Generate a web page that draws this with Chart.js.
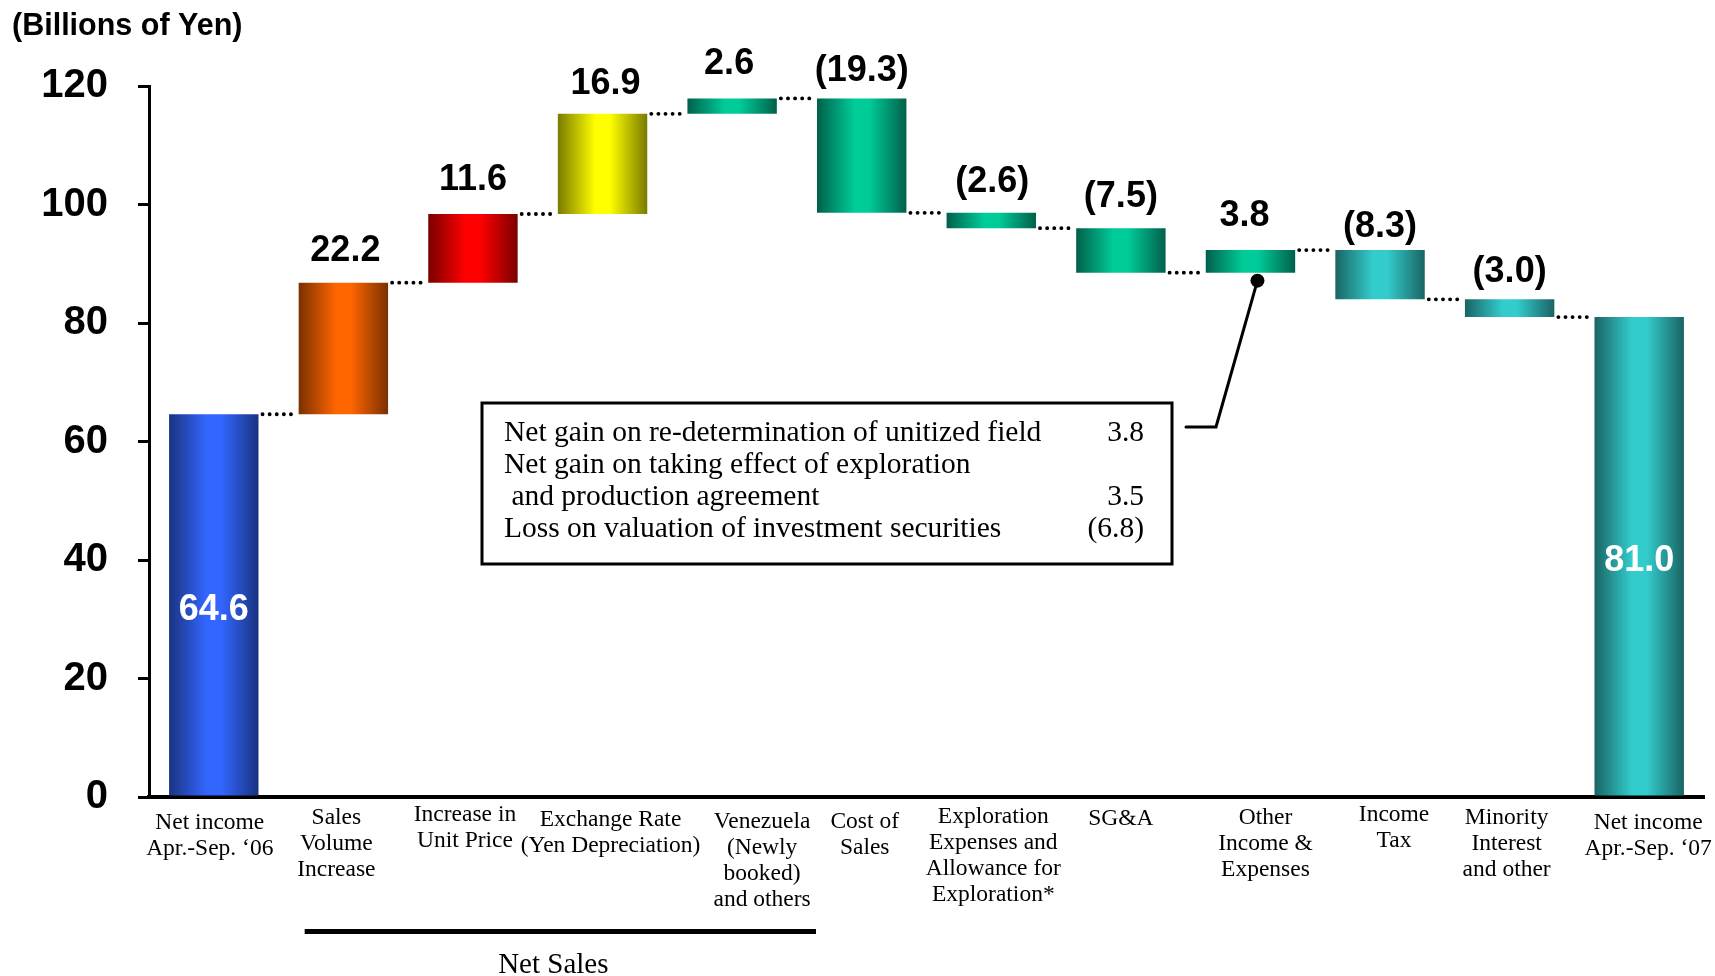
<!DOCTYPE html>
<html><head><meta charset="utf-8">
<script src="https://cdn.jsdelivr.net/npm/chart.js@4.4.1/dist/chart.umd.min.js"></script>
<style>html,body{margin:0;padding:0;background:#fff}#wrap{width:1715px;height:976px}</style>
</head><body><div id="wrap"><canvas id="c" width="1715" height="976"></canvas></div>
<script>
// ---------- data ----------
const categories = [
  ["Net income", "Apr.-Sep. \u201806"],
  ["Sales", "Volume", "Increase"],
  ["Increase in", "Unit Price"],
  ["Exchange Rate", "(Yen Depreciation)"],
  ["Venezuela", "(Newly", "booked)", "and others"],
  ["Cost of", "Sales"],
  ["Exploration", "Expenses and", "Allowance for", "Exploration*"],
  ["SG&A"],
  ["Other", "Income &", "Expenses"],
  ["Income", "Tax"],
  ["Minority", "Interest", "and other"],
  ["Net income", "Apr.-Sep. \u201807"]
];
const deltas = [64.6, 22.2, 11.6, 16.9, 2.6, -19.3, -2.6, -7.5, 3.8, -8.3, -3.0, 81.0];
const isTotal = [true, false, false, false, false, false, false, false, false, false, false, true];
const valueLabels = ["64.6", "22.2", "11.6", "16.9", "2.6", "(19.3)", "(2.6)", "(7.5)", "3.8", "(8.3)", "(3.0)", "81.0"];
const yTicks = [0, 20, 40, 60, 80, 100, 120];
const noteLines = ["Net gain on re-determination of unitized field", "Net gain on taking effect of exploration", " and production agreement", "Loss on valuation of investment securities"];
const noteValues = ["3.8", "", "3.5", "(6.8)"];
const unitTitle = "(Billions of Yen)";
const groupTitle = "Net Sales";

// ---------- styles ----------
const centerColors = ["#3366ff", "#ff6600", "#ff0000", "#ffff00", "#00cc99", "#00cc99", "#00cc99", "#00cc99", "#00cc99", "#33cccc", "#33cccc", "#33cccc"];
const edgeColors = ["#1a3380", "#7a3000", "#7a0000", "#7a7a00", "#00604a", "#00604a", "#00604a", "#00604a", "#00604a", "#1a6464", "#1a6464", "#1a6464"];
const BAR_PCT = 0.69;
const labelShiftX = [-4, -7, -8, 8, 30, 3, 2, 0, 15, 14, -3, 9];
const labelTopY = [823, 818, 815, 820, 822, 822, 817, 819, 818, 815, 818, 823];
const valueGap = [0, 32, 34, 30, 34, 27, 31, 31, 34, 23, 27, 0];
const valueShiftX = [0, 2, 0, 3, -3, 0, 1, 0, -6, 0, 0, 0];

// floating ranges built from deltas
const ranges = [];
let run = 0;
deltas.forEach((d, i) => {
  if (isTotal[i]) { ranges.push([0, d]); run = d; }
  else { ranges.push([run, run + d]); run = run + d; }
});
const levels = ranges.map(r => r[1]);

function barFill(ctx) {
  const chart = ctx.chart; const i = ctx.dataIndex;
  const xs = chart.scales && chart.scales.x;
  if (!chart.chartArea || !xs || xs.width === undefined) return centerColors[i];
  const cx = xs.getPixelForValue(i);
  const w = (xs.width / categories.length) * BAR_PCT;
  const g = chart.ctx.createLinearGradient(cx - w / 2, 0, cx + w / 2, 0);
  g.addColorStop(0, edgeColors[i]);
  g.addColorStop(0.42, centerColors[i]);
  g.addColorStop(0.58, centerColors[i]);
  g.addColorStop(1, edgeColors[i]);
  return g;
}

const SANS = "'Liberation Sans', Arial, sans-serif";
const SERIF = "'Liberation Serif', 'Times New Roman', serif";

const overlay = {
  id: 'overlay',
  afterDatasetsDraw(chart) {
    const ctx = chart.ctx;
    const meta = chart.getDatasetMeta(0);
    const ys = chart.scales.y;
    const xs = chart.scales.x;
    const els = meta.data;
    ctx.save();
    // category labels (x axis)
    ctx.fillStyle = '#000';
    ctx.font = "23.5px " + SERIF;
    ctx.textAlign = 'center'; ctx.textBaseline = 'middle';
    categories.forEach((lines, i) => {
      const cx = xs.getPixelForTick(i) + labelShiftX[i];
      lines.forEach((ln, k) => ctx.fillText(ln, cx, labelTopY[i] + k * 25.8));
    });
    // dotted connectors
    ctx.strokeStyle = '#000'; ctx.lineWidth = 3.8; ctx.lineCap = 'round';
    ctx.setLineDash([0.1, 7]);
    for (let i = 0; i < els.length - 1; i++) {
      const a = els[i], b = els[i + 1];
      const y = ys.getPixelForValue(levels[i]);
      ctx.beginPath();
      ctx.moveTo(a.x + a.width / 2 + 4, y);
      ctx.lineTo(b.x - b.width / 2 - 1, y);
      ctx.stroke();
    }
    ctx.setLineDash([]);
    // value labels
    ctx.font = "bold 36px " + SANS;
    els.forEach((el, i) => {
      if (isTotal[i]) {
        ctx.fillStyle = '#fff';
        ctx.fillText(valueLabels[i], el.x, (el.y + el.base) / 2 + 5);
      } else {
        ctx.fillStyle = '#000';
        const top = Math.min(el.y, el.base);
        ctx.fillText(valueLabels[i], el.x + valueShiftX[i], top - valueGap[i]);
      }
    });
    // unit title
    ctx.font = "bold 30.5px " + SANS;
    ctx.textAlign = 'left'; ctx.fillStyle = '#000';
    ctx.fillText(unitTitle, 12, 27);
    // note box
    const bx = 482, by = 403, bw = 690, bh = 161;
    ctx.lineWidth = 3; ctx.strokeStyle = '#000';
    ctx.strokeRect(bx, by, bw, bh);
    ctx.font = "29.5px " + SERIF;
    const lineYs = [433, 465, 497, 529];
    noteLines.forEach((t, k) => {
      ctx.textAlign = 'left';
      ctx.fillText(t, 504, lineYs[k]);
      ctx.textAlign = 'right';
      if (noteValues[k]) ctx.fillText(noteValues[k], 1144, lineYs[k]);
    });
    // callout to "Other Income & Expenses" bar
    const t = els[8];
    const dotX = t.x + 7, dotY = Math.max(t.y, t.base) + 8;
    ctx.lineWidth = 3;
    ctx.beginPath();
    ctx.moveTo(bx + bw + 14, 427);
    ctx.lineTo(1216, 427);
    ctx.lineTo(dotX, dotY);
    ctx.stroke();
    ctx.beginPath(); ctx.arc(dotX, dotY, 7, 0, Math.PI * 2); ctx.fill();
    // Net Sales bracket
    const x1 = els[1].x - els[1].width / 2 + 6;
    const x2 = els[5].x - els[5].width / 2 - 1;
    ctx.fillRect(x1, 929, x2 - x1, 5);
    ctx.font = "29px " + SERIF;
    ctx.textAlign = 'center';
    ctx.fillText(groupTitle, (x1 + x2) / 2 - 7, 965);
    ctx.restore();
  }
};

new Chart(document.getElementById('c'), {
  type: 'bar',
  data: {
    labels: categories,
    datasets: [{
      data: ranges,
      backgroundColor: barFill,
      borderWidth: 0,
      borderSkipped: false,
      barPercentage: BAR_PCT,
      categoryPercentage: 1.0
    }]
  },
  options: {
    responsive: false,
    animation: false,
    devicePixelRatio: 1,
    layout: { padding: { left: 0, right: 11, top: 86, bottom: 0 } },
    plugins: { legend: { display: false }, tooltip: { enabled: false }, title: { display: false } },
    scales: {
      x: {
        grid: { display: false, drawTicks: false },
        border: { display: true, width: 4, color: '#000' },
        ticks: { display: false },
        afterFit(s) { s.height = 179; }
      },
      y: {
        min: 0, max: 120,
        afterBuildTicks(s) { s.ticks = yTicks.map(v => ({ value: v })); },
        grid: { drawOnChartArea: false, drawTicks: true, tickLength: 11, lineWidth: 3, color: '#000' },
        border: { display: true, width: 3, color: '#000' },
        ticks: { color: '#000', padding: 30, font: { family: SANS, size: 40, weight: 'bold' } },
        afterFit(s) { s.width = 149; }
      }
    }
  },
  plugins: [overlay]
});
</script></body></html>
